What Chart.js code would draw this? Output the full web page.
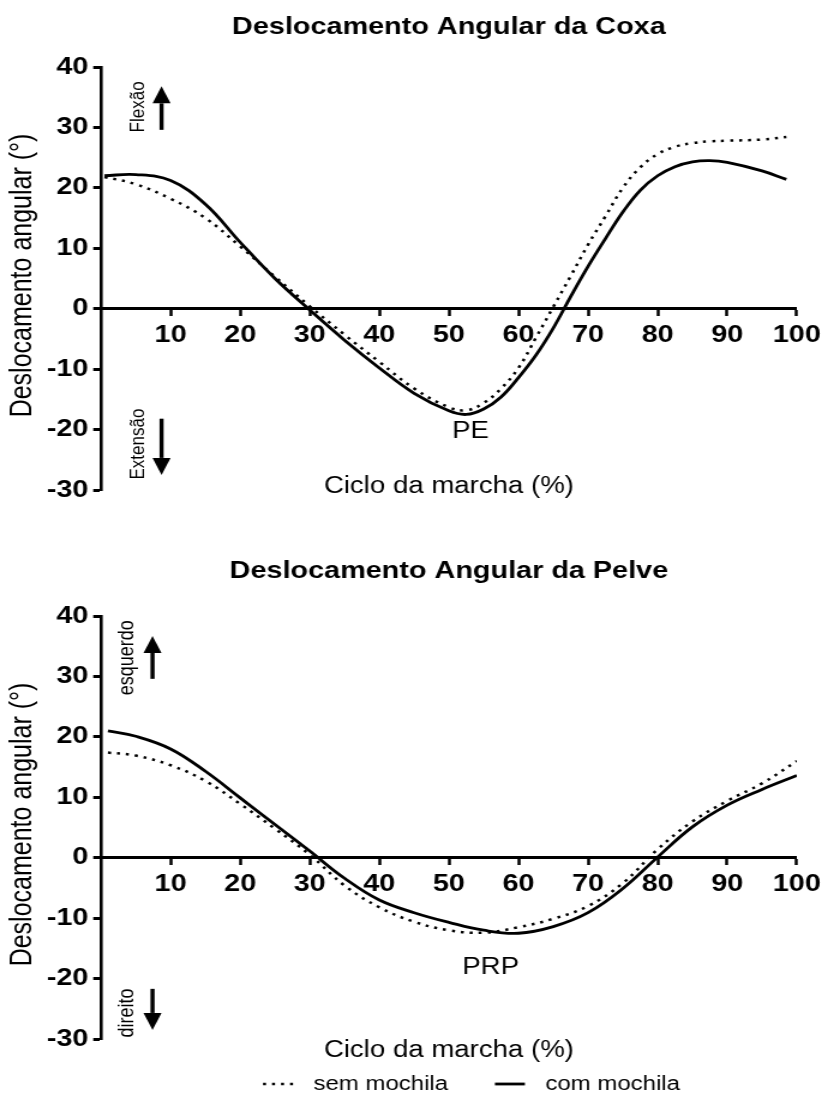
<!DOCTYPE html>
<html lang="pt">
<head>
<meta charset="UTF-8">
<title>Deslocamento Angular da Coxa e da Pelve</title>
<script src="https://cdn.jsdelivr.net/npm/chart.js"></script>
<style>
  body { margin: 0; background: #fff; }
  canvas { display: block; }
</style>
</head>
<body>
<!-- the original figure is stretched sideways, so the canvases are drawn narrow and widened by css -->
<canvas id="coxaChart" width="690" height="520" style="width:828px;height:520px"></canvas>
<canvas id="pelveChart" width="690" height="573" style="width:828px;height:573px"></canvas>
<script>
// values: % of gait cycle -> angle in degrees
const coxaX   = [0.5, 5, 10, 15, 20, 25, 30, 35, 40, 45, 50, 52.5, 55, 57.5, 60, 62.5, 65, 67.5, 70, 72.5, 75, 77.5, 80, 82.5, 85, 87.5, 90, 95, 98.5];
const coxaSem = [21.8, 20.6, 18.2, 15.0, 10.3, 5.3, 0.4, -4.3, -8.8, -13.2, -16.3, -16.8, -15.6, -13.2, -9.8, -4.8, 0.3, 5.4, 10.6, 15.3, 20.0, 23.4, 25.6, 26.8, 27.4, 27.7, 27.8, 28.0, 28.4];
const coxaCom = [22.0, 22.2, 21.2, 17.3, 11.0, 5.0, -0.2, -5.2, -9.8, -14.0, -16.9, -17.5, -16.6, -14.6, -11.4, -7.7, -3.2, 2.0, 7.0, 11.6, 16.0, 19.6, 22.0, 23.5, 24.3, 24.5, 24.2, 22.8, 21.4];

const pelveX   = [1, 5, 10, 15, 20, 25, 30, 35, 40, 45, 50, 55, 60, 65, 70, 75, 80, 85, 90, 95, 100];
const pelveSem = [17.4, 16.9, 15.3, 12.7, 8.9, 4.8, 0.5, -4.6, -8.2, -10.6, -12.0, -12.4, -11.5, -10.1, -8.0, -4.2, 1.4, 6.0, 9.4, 12.3, 16.0];
const pelveCom = [21.0, 20.1, 18.0, 14.3, 9.9, 5.5, 1.1, -3.4, -7.0, -9.1, -10.7, -12.0, -12.5, -11.4, -9.1, -5.1, 0.1, 5.1, 8.7, 11.3, 13.6];

const seriesLabels = ['sem mochila', 'com mochila'];
const xTitle = 'Ciclo da marcha (%)';
const yTitle = 'Deslocamento angular (°)';

const SX = 1.2; // horizontal stretch of the original
const FONT = '"Liberation Sans", Arial, sans-serif';

function points(xs, ys) {
    return xs.map((x, i) => ({ x: x, y: ys[i] }));
}

function rotatedText(ctx, text, x, y) {
    ctx.save();
    ctx.translate(x, y);
    ctx.rotate(-Math.PI / 2);
    ctx.fillText(text, 0, 0);
    ctx.restore();
}

// titles, direction arrows, phase label and legend
const gaitText = {
    id: 'gaitText',
    afterDraw(chart, args, o) {
        const ctx = chart.ctx, a = chart.chartArea;
        const xs = chart.scales.x, ys = chart.scales.y;
        const mid = (a.left + a.right) / 2;
        ctx.save();
        ctx.fillStyle = '#000';
        ctx.strokeStyle = '#000';
        ctx.textAlign = 'center';
        ctx.textBaseline = 'middle';

        ctx.font = 'bold 24px ' + FONT;
        ctx.fillText(o.title, mid, o.titleY);

        ctx.font = '23px ' + FONT;
        ctx.fillText(xTitle, mid, o.xTitleY);
        ctx.font = '25px ' + FONT;
        rotatedText(ctx, yTitle, 22.5 / SX, (a.top + a.bottom) / 2 - 3);

        o.arrows.forEach(ar => {
            ctx.font = ar.size + 'px ' + FONT;
            rotatedText(ctx, ar.text, xs.getPixelForValue(ar.textX), ys.getPixelForValue(ar.textY));
            const ax = xs.getPixelForValue(ar.arrowX);
            const y0 = ys.getPixelForValue(ar.from), y1 = ys.getPixelForValue(ar.to);
            const dir = Math.sign(y1 - y0), head = 17;
            ctx.lineWidth = 3.4;
            ctx.beginPath();
            ctx.moveTo(ax, y0);
            ctx.lineTo(ax, y1 - dir * head);
            ctx.stroke();
            ctx.beginPath();
            ctx.moveTo(ax, y1);
            ctx.lineTo(ax - 7.5, y1 - dir * head);
            ctx.lineTo(ax + 7.5, y1 - dir * head);
            ctx.closePath();
            ctx.fill();
        });

        ctx.font = '23px ' + FONT;
        ctx.fillText(o.phase.text, xs.getPixelForValue(o.phase.x), ys.getPixelForValue(o.phase.y));

        if (o.legendY) {
            ctx.font = '20px ' + FONT;
            ctx.textAlign = 'left';
            let x = a.left + 135;
            chart.data.datasets.forEach(ds => {
                ctx.save();
                ctx.lineWidth = ds.borderWidth;
                ctx.setLineDash(ds.borderDash || []);
                ctx.beginPath();
                ctx.moveTo(x, o.legendY);
                ctx.lineTo(x + 25, o.legendY);
                ctx.stroke();
                ctx.restore();
                ctx.fillText(ds.label, x + 42, o.legendY);
                x += 42 + ctx.measureText(ds.label).width + 39;
            });
        }
        ctx.restore();
    }
};

function makeChart(id, xs, sem, com, o) {
    const tickFont = { family: FONT, weight: 'bold', size: 24 };
    return new Chart(document.getElementById(id), {
        type: 'line',
        data: {
            datasets: [{
                label: seriesLabels[0],
                data: points(xs, sem),
                borderColor: '#000',
                borderWidth: 2.5,
                borderDash: [2.5, 5],
                pointRadius: 0,
                tension: 0.4
            }, {
                label: seriesLabels[1],
                data: points(xs, com),
                borderColor: '#000',
                borderWidth: 2.8,
                pointRadius: 0,
                tension: 0.4
            }]
        },
        options: {
            responsive: false,
            animation: false,
            devicePixelRatio: 1,
            layout: { padding: { left: 0, right: 28 / SX, top: o.top, bottom: o.bottom } },
            plugins: {
                legend: { display: false },
                tooltip: { enabled: false },
                gaitText: o
            },
            scales: {
                x: {
                    type: 'linear',
                    min: 0,
                    max: 100,
                    position: { y: 0 },
                    afterFit: s => { s.height = 0; },
                    ticks: {
                        stepSize: 10,
                        color: '#000',
                        padding: 6,
                        maxRotation: 0,
                        autoSkip: false,
                        font: tickFont,
                        callback: v => v === 0 ? '' : v
                    },
                    grid: {
                        drawOnChartArea: false,
                        tickLength: 6,
                        tickWidth: 2.5,
                        tickColor: c => (c.tick && c.tick.value === 0) ? 'rgba(0,0,0,0)' : '#000'
                    },
                    border: { color: '#000', width: 3 }
                },
                y: {
                    type: 'linear',
                    min: -30,
                    max: 40,
                    afterFit: s => { s.width = 101 / SX; },
                    ticks: { stepSize: 10, color: '#000', padding: 4, font: tickFont },
                    grid: { drawOnChartArea: false, tickLength: 6.5, tickWidth: 3, tickColor: '#000' },
                    border: { color: '#000', width: 2.6 }
                }
            }
        },
        plugins: [gaitText]
    });
}

makeChart('coxaChart', coxaX, coxaSem, coxaCom, {
    title: 'Deslocamento Angular da Coxa',
    titleY: 27, xTitleY: 487, top: 67, bottom: 30,
    arrows: [
        { text: 'Flexão', size: 17, textX: 5.4, textY: 33.4, arrowX: 8.7, from: 29.6, to: 36.8 },
        { text: 'Extensão', size: 17, textX: 5.4, textY: -22.4, arrowX: 8.7, from: -18.2, to: -27.5 }
    ],
    phase: { text: 'PE', x: 53.1, y: -20.4 }
});

makeChart('pelveChart', pelveX, pelveSem, pelveCom, {
    title: 'Deslocamento Angular da Pelve',
    titleY: 51, xTitleY: 531, top: 96, bottom: 54, legendY: 564,
    arrows: [
        { text: 'esquerdo', size: 18, textX: 3.7, textY: 33.1, arrowX: 7.4, from: 29.6, to: 36.7 },
        { text: 'direito', size: 18, textX: 3.7, textY: -25.7, arrowX: 7.4, from: -21.7, to: -28.5 }
    ],
    phase: { text: 'PRP', x: 56, y: -18.2 }
});
</script>
</body>
</html>
